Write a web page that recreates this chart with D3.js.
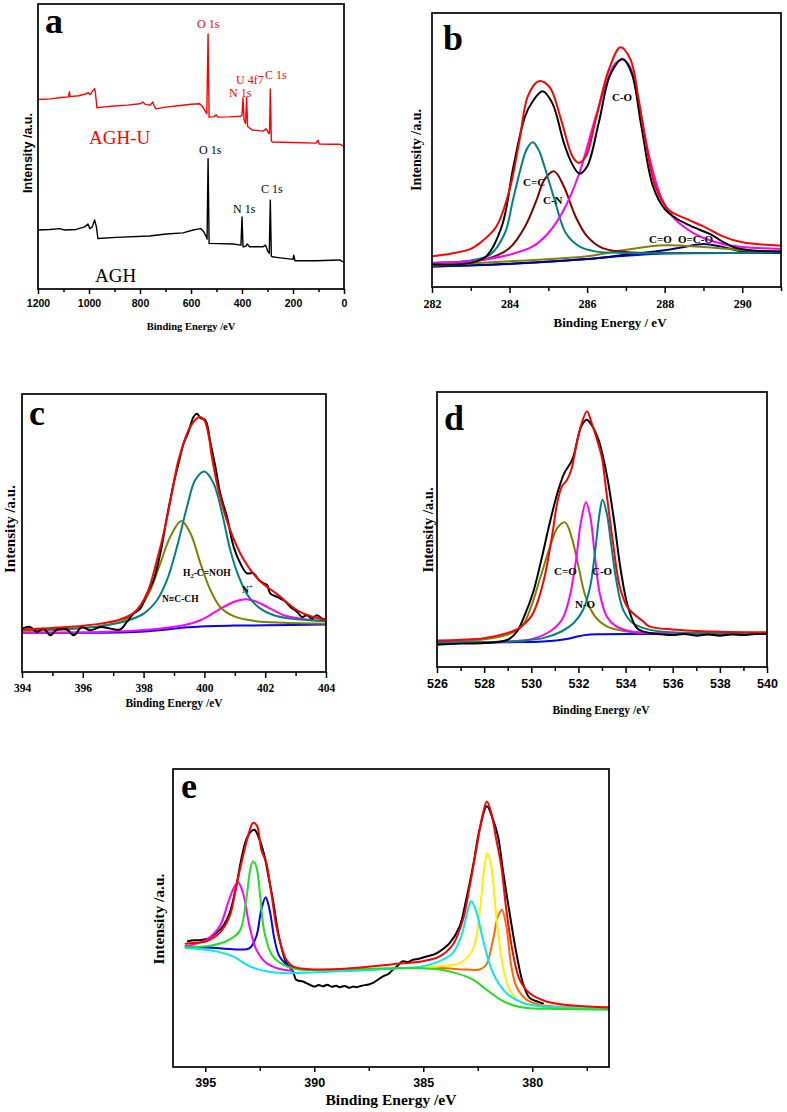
<!DOCTYPE html>
<html><head><meta charset="utf-8">
<script src="https://cdn.jsdelivr.net/npm/d3@7"></script>
<style>body{margin:0;background:#fff}</style>
</head><body>
<svg id="chart" width="787" height="1112"></svg>
<script>
// ---------- DATA (binding energy eV, intensity a.u.) ----------
// Panel a: survey
const aTicksMajor = [1200,1000,800,600,400,200,0];
const aTicksMinor = [1100,900,700,500,300,100];
const aAGHU = [[1200,66.5],[1150,66.7],[1110,67.2],[1080,67.4],[1077,69.2],[1074,67.5],[1040,67.8],[1010,68.5],[1004,68.9],[995,68.2],[985,69.5],[978,70.3],[975,69],[969,63.6],[940,63.9],[900,64.2],[850,64.5],[800,65],[789,65.6],[780,64.8],[760,64.5],[750,65.6],[745,64.4],[738,63.2],[700,63.8],[650,64.3],[600,64.8],[566,65],[555,64],[545,62.5],[538,61.5],[533,89.5],[529,60.3],[510,60.5],[501,61.1],[495,60.3],[450,60.4],[405,60.6],[400,61],[396,67],[392,59.5],[386,58],[382,67.3],[378,57],[360,55.8],[318,55.4],[305,56.2],[294,54.5],[292,55],[289,70.2],[285,52],[281,51.6],[200,51.4],[110,51.2],[102,52.2],[97,50.9],[50,50.8],[17,50.8],[0,50]];
const aAGH = [[1200,20.7],[1154,20.9],[1115,21.2],[1095,20.7],[1050,20.9],[1017,21.8],[1004,22.8],[997,21.2],[987,21.8],[978,24.2],[971,21.8],[965,17.7],[893,18.1],[762,18.6],[697,19.3],[631,19.7],[592,20.7],[562,21.2],[550,20.1],[540,18.3],[537,17.5],[533,45.7],[529,16],[435,15.8],[404,15.4],[400,25.3],[396,14.8],[385,15],[380,15.8],[370,14.8],[318,14.8],[308,15.4],[298,13.1],[293,12.5],[289,31.2],[285,11.5],[281,11.3],[265,11.1],[200,10.4],[197,11.9],[192,9.9],[109,9.9],[17,10.2],[0,9.3]];

// Panel b: C 1s
const bTicksMajor = [282,284,286,288,290];
const bTicksMinor = [283,285,287,289,291];
const bFit = [[282,11.2],[282.5,12.2],[283,13.9],[283.24,16.1],[283.66,22.1],[284,35.5],[284.26,53.8],[284.47,69.6],[284.75,75.1],[285.03,73],[285.33,61],[285.62,47.7],[285.78,45.3],[285.97,47.7],[286.22,61],[286.56,79.3],[286.86,87.5],[287.12,83],[287.33,68.4],[287.5,53.8],[287.76,36.7],[288.1,28.2],[288.5,25.2],[289,22.1],[289.5,18.5],[290,16.3],[291,15.1]];
const bRaw = [[282,8.2],[283,8.8],[283.4,11.2],[283.8,22.1],[284.1,44],[284.4,62.3],[284.6,67.8],[284.85,71.4],[285.1,67.2],[285.4,52.6],[285.6,45.3],[285.8,41.4],[286,44],[286.3,59.9],[286.6,77.5],[286.92,83.2],[287.15,78],[287.4,58.6],[287.7,36.7],[288,28.5],[288.3,25],[288.6,22.8],[288.9,20.9],[289.2,19.1],[289.5,16.5],[289.8,14.4],[290.2,13.4],[291,13]];
const bCC = [[282,8.8],[283,9.7],[283.5,11.8],[283.88,19.7],[284.09,31.9],[284.3,44],[284.45,50.5],[284.6,52.8],[284.75,50],[284.9,44],[285.16,31.9],[285.45,19.7],[285.8,14.8],[286.2,13],[287,12.4],[291,12.7]];
const bCN = [[282,8.8],[283,9.4],[283.5,10.6],[284,14.2],[284.4,22.1],[284.7,31.9],[284.9,39.2],[285.15,42.2],[285.4,36.7],[285.7,25.8],[286,18.5],[286.4,14.2],[287,12.8],[288,12.4],[291,12.7]];
const bCO = [[282,8.8],[283,9.4],[284,11.8],[284.6,14.8],[285,19.7],[285.4,28.2],[285.8,41.6],[286.2,61.1],[286.5,74.5],[286.7,81.1],[286.9,83],[287.1,80.5],[287.3,69.6],[287.6,47.7],[287.9,33.1],[288.2,25.8],[288.6,20.9],[289,17.9],[289.5,15.7],[290,14.6],[291,13.9]];
const bCdO = [[282,7.8],[284,9.4],[286,11.2],[287,13.6],[288,15.2],[289,14.6],[290,13.4],[291,12.9]];
const bOCO = [[282,7.5],[284,8.5],[286,10.2],[287,11.8],[288,13.4],[288.5,14.6],[289,15.7],[289.5,14.6],[290,13],[291,12.7]];
const bBase = [[282,7.5],[284,8.4],[286,10.2],[287,11.4],[288,12.2],[289,12.4],[291,12.4]];

// Panel c: N 1s
const cTicksMajor = [394,396,398,400,402,404];
const cTicksMinor = [395,397,399,401,403];
const cRaw = [[394,15.6],[394.27,16.2],[394.49,14.4],[394.71,15.6],[394.93,13.2],[395.15,15.3],[395.48,15.3],[395.7,13.2],[395.97,16.2],[396.25,15],[396.58,16.2],[396.91,15.6],[397.23,15.3],[397.45,18],[397.67,21],[397.89,22.8],[398.11,28.2],[398.33,33.1],[398.55,42.7],[398.77,55.9],[398.99,67.9],[399.15,75.1],[399.32,82.3],[399.48,86.5],[399.65,91.9],[399.76,92.9],[399.87,91.3],[400.03,90.7],[400.2,82.3],[400.36,73.9],[400.52,64.3],[400.74,55.9],[400.96,45.1],[401.18,39.1],[401.4,35.5],[401.62,35.5],[401.79,33.1],[401.95,31.9],[402.06,31.3],[402.17,28.2],[402.39,27],[402.61,25.8],[402.83,23.4],[403.05,21.6],[403.21,19.8],[403.38,20.4],[403.54,19.2],[403.7,20.4],[403.87,19.2],[404,18.9]];
const cFit = [[394,15.3],[395.5,16.2],[396.6,17.4],[397.2,18.8],[397.7,21.5],[398.11,28.2],[398.44,40.3],[398.71,52.3],[398.93,64.3],[399.15,76.3],[399.54,88.3],[399.84,91.7],[400.0,90.5],[400.14,85],[400.25,77],[400.47,65],[400.8,52.5],[401.29,40.5],[401.8,33],[402.39,28],[403.16,21.5],[404,18.6]];
const cNOH = [[394,15.3],[395.48,15.6],[396.58,16.5],[397.45,18.4],[398,21],[398.44,25.8],[398.77,33.1],[399.1,45.1],[399.43,59.5],[399.7,69.1],[400,72.1],[400.3,67.9],[400.58,57.1],[400.85,43.9],[401.13,34.3],[401.46,27],[401.84,22.8],[402.28,20.4],[402.83,19.2],[403.48,18.6],[404,18.3]];
const cNCCH = [[394,14.8],[395.48,15.3],[396.58,16.5],[397.34,18.6],[397.89,23.4],[398.22,29.4],[398.55,39.1],[398.88,48.7],[399.24,54.3],[399.54,49.9],[399.87,39.1],[400.2,29.4],[400.52,23.4],[400.96,20.1],[401.62,18.4],[402.61,17.7],[404,17.4]];
const cNplus = [[394,14.1],[396.58,14.4],[398.22,15.3],[399.32,16.8],[399.87,18.6],[400.41,22],[400.96,25.2],[401.38,26.2],[401.73,25.2],[402.17,22.8],[402.61,20.4],[403.16,19.2],[404,18.3]];
const cBase = [[394,14.1],[397.67,14.4],[398.77,15.3],[399.32,16],[400.09,16.5],[400.96,16.7],[402.06,16.8],[404,17.1]];

// Panel d: O 1s
const dTicksMajor = [526,528,530,532,534,536,538,540];
const dTicksMinor = [527,529,531,533,535,537,539];
const dRaw = [[526,8.1],[527,8.5],[528,8.7],[529,9.9],[529.4,13],[529.7,18.4],[530.07,26.9],[530.4,38],[530.75,51.2],[531.1,63],[531.4,70.5],[531.74,75.4],[532.12,87.5],[532.35,89.9],[532.55,88.1],[532.85,82.7],[533.2,70],[533.5,54],[533.8,35],[534.1,22],[534.5,14],[535,12.4],[535.5,11.9],[536,11.6],[536.5,12],[537,11.4],[537.5,11.8],[538,11.4],[538.5,11.8],[539,11.6],[539.5,12],[540,12.1]];
const dFit = [[526,9.6],[527,9.9],[528,10.5],[529,12.4],[529.5,14.2],[530,18.4],[530.3,24.5],[530.6,34.2],[530.9,48.7],[531.1,59.6],[531.3,65.7],[531.5,67.8],[531.7,71.8],[531.9,80.2],[532.1,87.5],[532.36,93],[532.55,89],[532.83,81.5],[533.0,76],[533.19,63.3],[533.47,45],[533.75,29.3],[534.1,21.5],[534.74,16.6],[535,14.8],[536,13.6],[537,13.1],[538,12.8],[540,12.6]];
const dCdO = [[526,9.3],[528,10.1],[529,11.8],[529.6,14.8],[530,22.1],[530.4,33],[530.8,43.9],[531.1,50.5],[531.43,52.6],[531.7,47.5],[532,36.6],[532.3,25.7],[532.7,18.4],[533.2,14.8],[534,13],[535,12.4],[537,12.2],[540,12.1]];
const dNO = [[526,9],[529,9.3],[530,10.1],[530.8,13],[531.3,17.2],[531.6,24.5],[531.9,39],[532.1,52.4],[532.32,59.9],[532.5,54.8],[532.7,40.2],[532.9,26.9],[533.2,18.4],[533.6,14.8],[534.2,13],[535,12.4],[540,12.1]];
const dCO = [[526,9],[529,9.3],[530.5,10.5],[531.3,13],[531.8,16],[532.2,20.8],[532.5,29.3],[532.7,41.5],[532.9,56],[533.02,60.8],[533.2,56],[533.4,43.9],[533.6,31.8],[533.9,20.8],[534.3,16],[535,13.6],[536,12.6],[538,12.2],[540,12.1]];
const dBase = [[526,8.7],[529,9],[530.5,9.3],[531.5,10.2],[532,11.2],[532.5,11.8],[533,11.9],[534,12],[540,12.1]];

// Panel e: U 4f
const eTicksMajor = [395,390,385,380];
const eTicksMinor = [392.5,387.5,382.5,377.5];
const eRaw = [[395.8,42.2],[395.5,42.5],[395.11,42.7],[394.8,43.3],[394.5,45],[394.19,47.2],[393.88,51.7],[393.58,60.6],[393.35,69.6],[393.12,76.3],[392.89,79.1],[392.74,79.6],[392.51,76.3],[392.28,70.7],[392.13,65.1],[391.9,56.2],[391.59,42.7],[391.28,34.9],[390.98,32.1],[390.83,29.3],[390.52,28.7],[390.21,27.6],[390.0,27.0],[389.8,27.5],[389.6,27.1],[389.4,27.6],[389.2,26.9],[389.0,27.3],[388.84,26.8],[388.6,27.2],[388.4,26.6],[388.2,27.0],[388.07,26.8],[387.8,27.3],[387.5,27.7],[387.31,28.2],[387.1,29.2],[386.85,30.4],[386.6,31.2],[386.39,32.7],[386.2,33.8],[385.93,35.5],[385.7,35.2],[385.47,36],[385.2,36.3],[384.86,37.1],[384.5,37.8],[384.25,38.8],[383.79,41.6],[383.33,47.2],[383.03,56.2],[382.72,67.3],[382.42,79.6],[382.08,87.5],[381.8,83],[381.57,77.4],[381.35,66.2],[381.04,51.7],[380.73,38.3],[380.43,28.2],[380.12,23.2],[379.66,21.7],[379.51,21.3]];
const eFit = [[395.9,41.4],[395.57,41.6],[394.95,42.2],[394.34,45],[393.88,50.6],[393.58,60.6],[393.27,70.7],[393.04,77.4],[392.81,81.9],[392.63,81],[392.43,72.9],[392.2,68.5],[391.97,58.4],[391.74,47.2],[391.51,40.5],[391.28,36],[390.98,33.8],[390.37,32.9],[388.84,32.9],[387.31,33.8],[386.09,34.7],[385.02,35.5],[384.25,37.1],[383.64,41.1],[383.18,49.4],[382.87,60.6],[382.57,72.9],[382.26,85.2],[382.08,89.1],[381.88,85.2],[381.65,76.3],[381.42,67.3],[381.19,52.8],[380.89,38.3],[380.58,29.3],[380.13,24.8],[379.36,22],[378.13,20.6],[376.48,20]];
const eMagenta = [[395.9,40.5],[394.95,42.7],[394.34,47.2],[393.96,55],[393.73,59.5],[393.5,62],[393.27,58.4],[392.97,47.2],[392.66,39.4],[392.2,34.9],[391.59,32.9],[390.98,32.3]];
const eGreen = [[395.9,40.3],[394.95,40.5],[394.04,42.2],[393.43,45.5],[393.12,56.2],[392.94,66.2],[392.81,69],[392.66,67.3],[392.48,57.3],[392.28,45],[391.9,37.1],[391.28,33.8],[390.67,32.7],[388.84,32.7],[385.78,33.2],[384.25,32.7],[383.49,31.5],[382.72,29.3],[382.11,26],[381.5,22.8],[380.89,20.7],[380.27,19.8],[378.9,19.5],[376.48,19.2]];
const eBlue = [[395.9,40.5],[394.5,39.9],[393.43,39.4],[392.97,39.9],[392.66,43.8],[392.43,52.8],[392.23,57],[392.05,52.8],[391.82,42.7],[391.59,37.1],[391.13,33.8],[390.37,32.7]];
const eCyan = [[395.9,39.9],[394.5,38.8],[393.73,37.1],[392.97,33.8],[392.2,32.1],[391.28,31.5],[388.84,32.1],[385.78,33.2],[385.02,33.8],[384.25,35.5],[383.64,38.3],[383.26,43.8],[382.95,52.8],[382.8,55.6],[382.57,52.2],[382.26,42.7],[381.8,31.5],[381.19,24.8],[380.43,21.5],[379.66,20.4],[378.13,19.8],[376.48,19.5]];
const eYellow = [[385.78,33.2],[384.25,33.8],[383.33,34.9],[382.72,39.4],[382.42,51.7],[382.19,67.3],[382.06,71.8],[381.88,67.3],[381.65,50.6],[381.35,33.8],[381.04,26],[380.58,22],[379.66,20.4],[376.48,19.8]];
const eOrange = [[386.39,33.2],[384.25,33.2],[383.03,32.7],[382.42,32.7],[382.11,34.3],[381.8,42.7],[381.57,50.6],[381.39,52.8],[381.19,47.2],[380.96,33.8],[380.73,27.1],[380.27,22.6],[379.66,20.9],[376.48,20]];

// ---------- DRAWING ----------
const SERIF = "'Liberation Serif','Times New Roman',serif";
const SANS = "'Liberation Sans',Arial,sans-serif";
const svg = d3.select('#chart');
svg.append('rect').attr('width',787).attr('height',1112).attr('fill','#fff');

function panel(o){
  const x = d3.scaleLinear().domain(o.xDomain).range([o.x0, o.x1]);
  const y = d3.scaleLinear().domain([0,100]).range([o.y1, o.y0]);
  const g = svg.append('g');
  const clipId = 'clip_' + o.id;
  svg.append('clipPath').attr('id', clipId).append('rect')
    .attr('x', o.x0).attr('y', o.y0).attr('width', o.x1 - o.x0).attr('height', o.y1 - o.y0);
  const lg = g.append('g').attr('clip-path', `url(#${clipId})`);
  const line = d3.line().x(d => x(d[0])).y(d => y(d[1])).curve(o.curve);
  o.series.forEach(s => {
    lg.append('path').attr('d', line(s.data)).attr('fill','none')
      .attr('stroke', s.color).attr('stroke-width', s.w || o.lw)
      .attr('stroke-linejoin','round').attr('stroke-linecap','round');
  });
  // axes
  const major = d3.axisBottom(x).tickValues(o.major).tickSize(o.tMaj).tickSizeOuter(0).tickFormat(d3.format('d'));
  const minor = d3.axisBottom(x).tickValues(o.minor).tickSize(o.tMin).tickSizeOuter(0).tickFormat('');
  const gMin = g.append('g').attr('transform', `translate(0,${o.y1})`).call(minor);
  gMin.select('.domain').remove();
  gMin.selectAll('.tick line').attr('stroke','#000').attr('stroke-width',1.5);
  const gMaj = g.append('g').attr('transform', `translate(0,${o.y1})`).call(major);
  gMaj.select('.domain').remove();
  gMaj.selectAll('.tick line').attr('stroke','#000').attr('stroke-width',1.5);
  gMaj.selectAll('.tick text').attr('dy', null).attr('y', o.tickY - o.y1)
    .style('font-family', o.tickFont).style('font-size', o.tickFs + 'px')
    .style('font-weight','bold').attr('fill','#000');
  // frame
  g.append('rect').attr('x', o.x0).attr('y', o.y0).attr('width', o.x1 - o.x0).attr('height', o.y1 - o.y0)
    .attr('fill','none').attr('stroke','#000').attr('stroke-width',1.7);
  // x title
  g.append('text').attr('x', o.titleX).attr('y', o.titleY).attr('text-anchor','middle')
    .style('font-family', SERIF).style('font-weight','bold').style('font-size', o.titleFs + 'px')
    .text(o.title);
  // y title
  g.append('text').attr('transform', `translate(${o.ylabX},${o.ylabY}) rotate(-90)`)
    .attr('text-anchor','middle').attr('dy','0.35em')
    .style('font-family', o.ylabFont).style('font-weight','bold').style('font-size', o.ylabFs + 'px')
    .text('Intensity /a.u.');
  // panel letter
  g.append('text').attr('x', o.letterX).attr('y', o.letterY)
    .style('font-family', SERIF).style('font-weight','bold').style('font-size','36px').text(o.id);
  return g;
}
function label(g, t, px, py, fs, color, bold){
  return g.append('text').attr('x', px).attr('y', py)
    .style('font-family', SERIF).style('font-size', fs + 'px')
    .style('font-weight', bold ? 'bold' : 'normal').attr('fill', color).text(t);
}

// Panel a
const ga = panel({id:'a', x0:38, x1:344, y0:4, y1:289, xDomain:[1200,0], curve:d3.curveLinear, lw:1.4,
  major:aTicksMajor, minor:aTicksMinor, tMaj:5, tMin:3, tickY:307, tickFont:SANS, tickFs:10.5,
  title:'Binding Energy /eV', titleX:191, titleY:330, titleFs:10.5,
  ylabX:28, ylabY:153, ylabFont:SANS, ylabFs:12.5, letterX:45, letterY:33,
  series:[{data:aAGH, color:'#000'},{data:aAGHU, color:'#ff0000'}]});
label(ga,'O 1s',197,28,12,'#ff0000');
label(ga,'U 4f7',236,84,12,'#ff0000');
label(ga,'N 1s',229,97,12,'#ff0000');
label(ga,'C 1s',265,79,12,'#ff0000');
label(ga,'AGH-U',89,144,19,'#ff0000');
label(ga,'O 1s',199,154,12,'#000');
label(ga,'N 1s',233,213,12,'#000');
label(ga,'C 1s',261,193,12,'#000');
label(ga,'AGH',95,282,19,'#000');

// Panel b
const gb = panel({id:'b', x0:432, x1:781, y0:13, y1:287, xDomain:[282,291], curve:d3.curveCatmullRom.alpha(0.5), lw:2,
  major:bTicksMajor, minor:bTicksMinor, tMaj:6, tMin:4, tickY:308, tickFont:SERIF, tickFs:12,
  title:'Binding Energy / eV', titleX:610, titleY:327, titleFs:13,
  ylabX:416, ylabY:150, ylabFont:SERIF, ylabFs:14, letterX:443, letterY:50,
  series:[{data:bBase,color:'#0000ff'},{data:bOCO,color:'#000080'},{data:bCdO,color:'#808000'},
          {data:bCN,color:'#800000'},{data:bCC,color:'#008080'},{data:bCO,color:'#ff00ff'},
          {data:bRaw,color:'#000'},{data:bFit,color:'#ff0000'}]});
label(gb,'C-O',612,101,11,'#000',true);
label(gb,'C=C',523,186,11,'#000',true);
label(gb,'C-N',543,204,11,'#000',true);
label(gb,'C=O',649,243,11,'#000',true);
label(gb,'O=C-O',678,243,11,'#000',true);

// Panel c
const gc = panel({id:'c', x0:22, x1:326, y0:394, y1:672, xDomain:[394,404], curve:d3.curveCatmullRom.alpha(0.5), lw:2,
  major:cTicksMajor, minor:cTicksMinor, tMaj:6, tMin:4, tickY:692, tickFont:SERIF, tickFs:11.5,
  title:'Binding Energy /eV', titleX:174, titleY:707, titleFs:11.5,
  ylabX:10, ylabY:529, ylabFont:SERIF, ylabFs:15, letterX:29, letterY:425,
  series:[{data:cBase,color:'#0000ff'},{data:cNplus,color:'#ff00ff'},{data:cNCCH,color:'#808000'},
          {data:cNOH,color:'#008080'},{data:cRaw,color:'#000'},{data:cFit,color:'#ff0000'}]});
const tH = gc.append('text').attr('x',183).attr('y',576).style('font-family',SERIF).style('font-size','9.5px').style('font-weight','bold');
tH.append('tspan').text('H');
tH.append('tspan').attr('dy',2).style('font-size','6.5px').text('2');
tH.append('tspan').attr('dy',-2).text('-C=NOH');
label(gc,'N≡C-CH',162,602,9.5,'#000',true);
const tN = gc.append('text').attr('x',242).attr('y',593).style('font-family',SERIF).style('font-size','9.5px').style('font-weight','bold');
tN.append('tspan').text('N');
tN.append('tspan').attr('dy',-4).style('font-size','6.5px').text('+');

// Panel d
const gd = panel({id:'d', x0:437, x1:767, y0:392, y1:667, xDomain:[526,540], curve:d3.curveCatmullRom.alpha(0.5), lw:2,
  major:dTicksMajor, minor:dTicksMinor, tMaj:6, tMin:4, tickY:688, tickFont:SANS, tickFs:12.5,
  title:'Binding Energy /eV', titleX:601, titleY:714, titleFs:11.5,
  ylabX:428, ylabY:530, ylabFont:SERIF, ylabFs:14.5, letterX:444, letterY:430,
  series:[{data:dBase,color:'#0000ff'},{data:dCdO,color:'#808000'},{data:dNO,color:'#ff00ff'},
          {data:dCO,color:'#008080'},{data:dRaw,color:'#000'},{data:dFit,color:'#ff0000'}]});
label(gd,'C=O',554,575,11,'#000',true);
label(gd,'C-O',592,575,11,'#000',true);
label(gd,'N-O',575,608,11,'#000',true);

// Panel e
const ge = panel({id:'e', x0:173, x1:609, y0:769, y1:1067, xDomain:[396.48,376.48], curve:d3.curveCatmullRom.alpha(0.5), lw:2,
  major:eTicksMajor, minor:eTicksMinor, tMaj:5, tMin:4, tickY:1087, tickFont:SANS, tickFs:12.5,
  title:'Binding Energy /eV', titleX:391, titleY:1105, titleFs:15.5,
  ylabX:159, ylabY:919, ylabFont:SERIF, ylabFs:15.5, letterX:181, letterY:798,
  series:[{data:eRaw,color:'#000'},{data:eOrange,color:'#ff6a00'},{data:eYellow,color:'#ffee00'},
          {data:eCyan,color:'#00e8f0'},{data:eBlue,color:'#0000ff'},{data:eMagenta,color:'#ff00ff'},
          {data:eGreen,color:'#22dd22'},{data:eFit,color:'#ff0000'}]});
</script>
</body></html>
